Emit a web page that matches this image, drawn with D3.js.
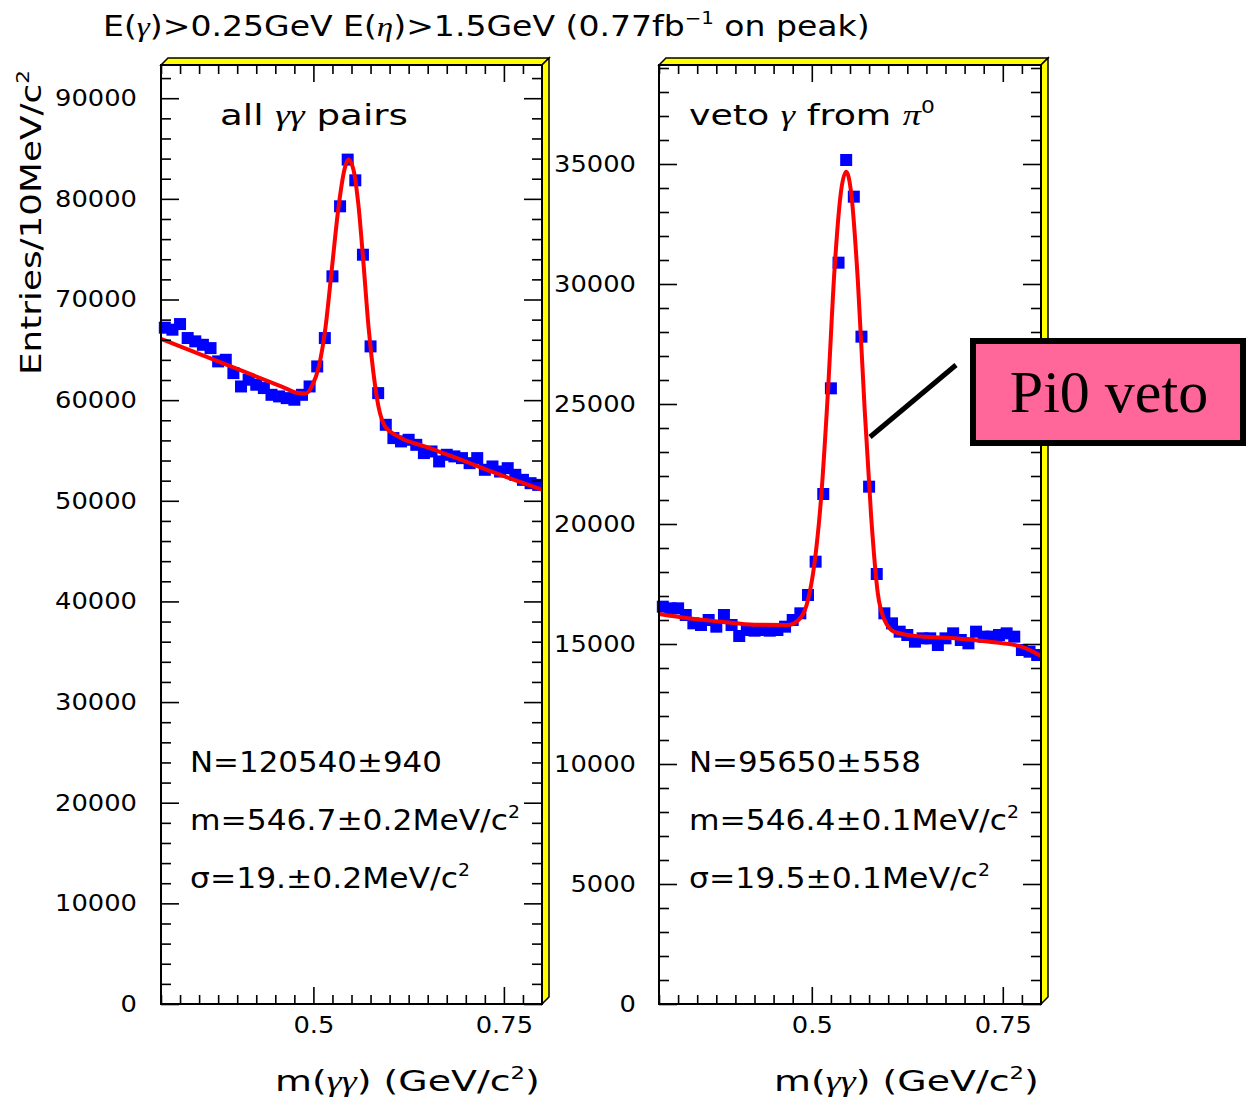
<!DOCTYPE html>
<html>
<head>
<meta charset="utf-8">
<script src="https://cdn.jsdelivr.net/npm/d3@7"></script>
<style>
  body { margin: 0; background: #fff; }
  text { fill: #000; }
</style>
</head>
<body>
<script>
// bin centres, 10 MeV bins
var massBins = [0.305, 0.315, 0.325, 0.335, 0.345, 0.355, 0.365, 0.375, 0.385, 0.395,
                0.405, 0.415, 0.425, 0.435, 0.445, 0.455, 0.465, 0.475, 0.485, 0.495,
                0.505, 0.515, 0.525, 0.535, 0.545, 0.555, 0.565, 0.575, 0.585, 0.595,
                0.605, 0.615, 0.625, 0.635, 0.645, 0.655, 0.665, 0.675, 0.685, 0.695,
                0.705, 0.715, 0.725, 0.735, 0.745, 0.755, 0.765, 0.775, 0.785, 0.795];

var allPairs = [67200, 67000, 67560, 66170, 65840, 65500, 65170, 63850, 64010, 62690,
                61360, 62030, 61530, 61200, 60530, 60370, 60200, 60040, 60530, 61360,
                63350, 66170, 72300, 79260, 83900, 81840, 74450, 65340, 60700, 57550,
                56230, 55900, 56060, 55560, 54740, 54900, 53910, 54570, 54410, 54240,
                53740, 54240, 53080, 53410, 52910, 53240, 52580, 52080, 51750, 51580];

var vetoPi0 = [16555, 16486, 16486, 16208, 15861, 15792, 16000, 15722, 16208, 15792,
               15333, 15583, 15555, 15583, 15555, 15583, 15722, 16000, 16278, 17042,
               18430, 21250, 25653, 30889, 35167, 33639, 27806, 21556, 17917, 16278,
               15861, 15514, 15375, 15097, 15236, 15236, 14958, 15236, 15444, 15167,
               15028, 15514, 15306, 15306, 15375, 15444, 15306, 14750, 14680, 14540];

// fit curves
var fitAllX = [0.300, 0.340, 0.380, 0.420, 0.460, 0.480, 0.490, 0.498, 0.507, 0.516, 0.524,
               0.533, 0.5417, 0.546, 0.5526, 0.5592, 0.5657, 0.5723, 0.5788, 0.5853, 0.594,
               0.611, 0.646, 0.690, 0.734, 0.800];
var fitAllY = [66100, 64900, 63700, 62500, 61300, 60700, 60650, 61400, 63300, 67300, 72900,
               79200, 83200, 83900, 82900, 79300, 73600, 67300, 62700, 59400, 57400,
               56400, 55400, 54200, 52900, 51100];

var fitVetoX = [0.300, 0.338, 0.381, 0.425, 0.469, 0.486, 0.495, 0.5035, 0.5123, 0.521, 0.5297,
                0.5385, 0.545, 0.5516, 0.5602, 0.569, 0.5777, 0.5864, 0.5952, 0.608, 0.643,
                0.687, 0.730, 0.774, 0.800];
var fitVetoY = [16250, 16070, 15930, 15800, 15790, 16120, 16830, 18360, 21140, 25440, 30580,
                33920, 34680, 33780, 30170, 24890, 20310, 17110, 16000, 15510, 15310,
                15240, 15100, 14890, 14500];

var xMajor = [0.5, 0.75];
var statsAll = ["N=120540\u00b1940", "m=546.7\u00b10.2MeV/c", "\u03c3=19.\u00b10.2MeV/c"];
var statsVeto = ["N=95650\u00b1558", "m=546.4\u00b10.1MeV/c", "\u03c3=19.5\u00b10.1MeV/c"];

var font = "DejaVu Sans";
var svg = d3.select("body").append("svg")
    .attr("width", 1252)
    .attr("height", 1102);

svg.append("rect").attr("width", 1252).attr("height", 1102).attr("fill", "#fff");

// squeeze/stretch a text so it spans the width seen in the picture
function fitText(t, x, y, w, rot) {
    var nat = t.node().getBBox().width;
    t.attr("transform", "translate(" + x + "," + y + ")" + (rot ? " rotate(-90)" : "") +
        " scale(" + (w / nat) + ",1)");
    return t;
}

// superscript; the tspan after it (if any) comes back down with dy
function sup(t, s, size) {
    t.append("tspan").attr("dy", -size * 0.42).attr("font-size", size * 0.6).text(s);
}
function after(t, s, size) {
    t.append("tspan").attr("dy", size * 0.42).text(s);
}

function greek(t, s) {
    t.append("tspan").attr("font-family", "Liberation Serif").attr("font-style", "italic").text(s);
}

function drawPanel(p) {
    var x = d3.scaleLinear().domain([0.3, 0.8]).range([p.left, p.right]);
    var y = d3.scaleLinear().domain([0, p.yMax]).range([1004, 65]);
    var g = svg.append("g");

    var yMaj = d3.range(0, p.yMax, p.major);
    var yMin = d3.range(0, p.yMax, p.minor).filter(function(d) { return d % p.major !== 0; });
    var xMin = d3.range(12, 33).map(function(i) { return +(i * 0.025).toFixed(3); })
        .filter(function(d) { return xMajor.indexOf(d) < 0; });

    // clip for the fit
    svg.append("clipPath").attr("id", p.id)
        .append("rect").attr("x", p.left).attr("y", 65)
        .attr("width", p.right - p.left).attr("height", 1004 - 65);

    // markers
    g.selectAll("rect.pt")
        .data(p.values)
        .enter()
        .append("rect")
            .attr("class", "pt")
            .attr("x", function(d, i) { return x(massBins[i]) - 6; })
            .attr("y", function(d) { return y(d) - 6; })
            .attr("width", 12)
            .attr("height", 12)
            .attr("fill", "#0000ff");

    var line = d3.line()
        .x(function(d, i) { return x(p.fitX[i]); })
        .y(function(d) { return y(d); })
        .curve(d3.curveMonotoneX);

    g.append("path")
        .attr("d", line(p.fitY))
        .attr("clip-path", "url(#" + p.id + ")")
        .attr("fill", "none")
        .attr("stroke", "#ff0000")
        .attr("stroke-width", 4);

    // ticks, all pointing inwards
    function ticks(axis, tx, ty, vals, len) {
        var a = g.append("g")
            .attr("transform", "translate(" + tx + "," + ty + ")")
            .call(axis.tickValues(vals).tickSize(-len).tickFormat(""));
        a.select(".domain").remove();
        a.selectAll("line").attr("stroke", "#000").attr("stroke-width", 1.6);
        return a;
    }
    ticks(d3.axisLeft(y), p.left, 0, yMin, 10);
    ticks(d3.axisRight(y), p.right, 0, yMin, 10);
    ticks(d3.axisRight(y), p.right, 0, yMaj, 18);
    ticks(d3.axisTop(x), 0, 65, xMin, 9);
    ticks(d3.axisTop(x), 0, 65, xMajor, 17);
    ticks(d3.axisBottom(x), 0, 1004, xMin, 9);

    var yAx = g.append("g")
        .attr("transform", "translate(" + p.left + ",0)")
        .call(d3.axisLeft(y).tickValues(yMaj).tickSize(-18).tickFormat(d3.format("d")));
    yAx.select(".domain").remove();
    yAx.selectAll("line").attr("stroke", "#000").attr("stroke-width", 1.6);
    yAx.selectAll("text")
        .attr("x", 0)
        .attr("font-family", font)
        .attr("font-size", 23)
        .attr("fill", "#000")
        .attr("transform", "translate(" + (-p.pad) + ",0) scale(1.12,1)");

    var xAx = g.append("g")
        .attr("transform", "translate(0,1004)")
        .call(d3.axisBottom(x).tickValues(xMajor).tickSize(-17).tickFormat(d3.format("~g")));
    xAx.select(".domain").remove();
    xAx.selectAll("line").attr("stroke", "#000").attr("stroke-width", 1.6);
    xAx.selectAll("text")
        .attr("y", 0)
        .attr("font-family", font)
        .attr("font-size", 23)
        .attr("fill", "#000")
        .attr("transform", "translate(0,13) scale(1.12,1)");

    // frame with the yellow bevel
    var d = 7;
    g.append("polygon")
        .attr("points", [[p.left, 65], [p.left + d, 65 - d], [p.right + d, 65 - d], [p.right, 65]].join(" "))
        .attr("fill", "#ffff00").attr("stroke", "#000").attr("stroke-width", 1.5);
    g.append("polygon")
        .attr("points", [[p.right, 65], [p.right + d, 65 - d], [p.right + d, 1004 - d], [p.right, 1004]].join(" "))
        .attr("fill", "#ffff00").attr("stroke", "#000").attr("stroke-width", 1.5);
    g.append("rect")
        .attr("x", p.left).attr("y", 65)
        .attr("width", p.right - p.left).attr("height", 1004 - 65)
        .attr("fill", "none").attr("stroke", "#000").attr("stroke-width", 2);

    // panel texts
    var tx = p.left + p.textOff;
    var t = g.append("text").attr("font-family", font).attr("font-size", 29);
    p.title(t);
    fitText(t, p.left + p.titleOff, 125, p.titleW);

    var base = [772, 830, 888];
    p.stats.forEach(function(s, i) {
        var st = g.append("text").attr("font-family", font).attr("font-size", 29).text(s);
        if (i > 0) sup(st, "2", 29);
        fitText(st, tx, base[i], p.statW[i]);
    });

    var xl = g.append("text").attr("font-family", font).attr("font-size", 29).text("m(");
    greek(xl, "\u03b3\u03b3");
    xl.append("tspan").text(") (GeV/c");
    sup(xl, "2", 29);
    after(xl, ")", 29);
    fitText(xl, p.right - 267, 1091, 265);
}

drawPanel({
    id: "clipAll", left: 161, right: 542, yMax: 93300, major: 10000, minor: 2000, pad: 24,
    values: allPairs, fitX: fitAllX, fitY: fitAllY,
    titleOff: 59, titleW: 188, textOff: 29,
    title: function(t) { t.text("all "); greek(t, "\u03b3\u03b3"); t.append("tspan").text(" pairs"); },
    stats: statsAll, statW: [252, 330, 280]
});

drawPanel({
    id: "clipVeto", left: 659, right: 1041, yMax: 39125, major: 5000, minor: 1000, pad: 23,
    values: vetoPi0, fitX: fitVetoX, fitY: fitVetoY,
    titleOff: 30, titleW: 246, textOff: 30,
    title: function(t) {
        t.text("veto "); greek(t, "\u03b3"); t.append("tspan").text(" from ");
        greek(t, "\u03c0"); sup(t, "0", 29);
    },
    stats: statsVeto, statW: [232, 330, 301]
});

// overall title
var title = svg.append("text").attr("font-family", font).attr("font-size", 28)
    .attr("fill", "#222").text("E(");
greek(title, "\u03b3");
title.append("tspan").text(")>0.25GeV E(");
greek(title, "\u03b7");
title.append("tspan").text(")>1.5GeV (0.77fb");
sup(title, "\u22121", 28);
after(title, " on peak)", 28);
fitText(title, 103, 36, 767);

// y axis title
var yl = svg.append("text").attr("font-family", font).attr("font-size", 29).text("Entries/10MeV/c");
sup(yl, "2", 29);
fitText(yl, 41, 375, 305, true);

// callout
svg.append("line")
    .attr("x1", 870).attr("y1", 437)
    .attr("x2", 956).attr("y2", 365)
    .attr("stroke", "#000").attr("stroke-width", 5);

svg.append("rect")
    .attr("x", 973).attr("y", 341)
    .attr("width", 270).attr("height", 102)
    .attr("fill", "#ff6699")
    .attr("stroke", "#000").attr("stroke-width", 6);

svg.append("text")
    .attr("x", 1109).attr("y", 412)
    .attr("text-anchor", "middle")
    .attr("font-family", "Liberation Serif")
    .attr("font-size", 60)
    .text("Pi0 veto");
</script>
</body>
</html>
